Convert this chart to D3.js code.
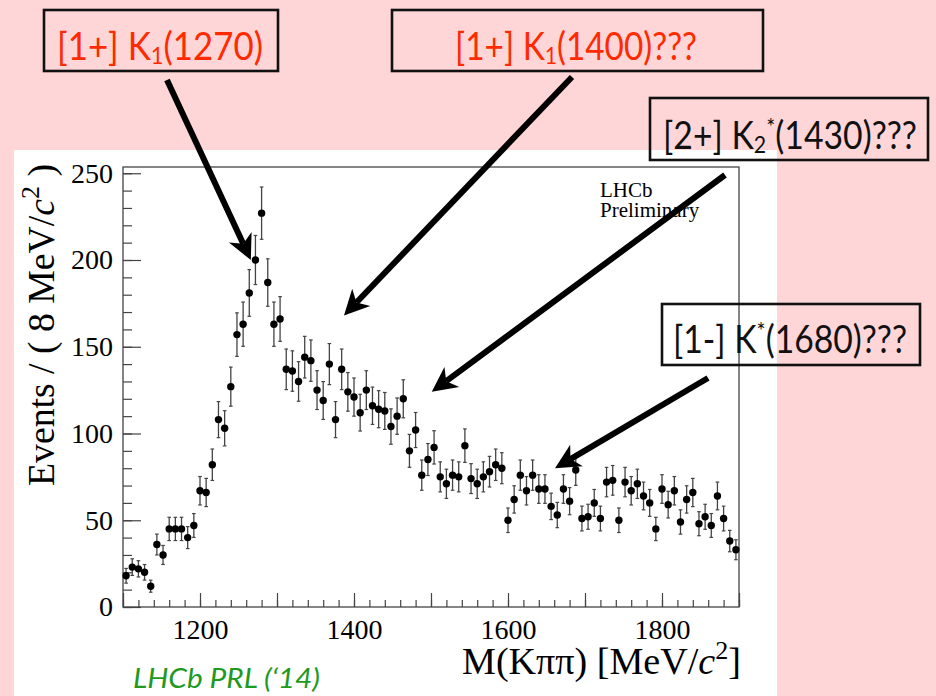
<!DOCTYPE html>
<html>
<head>
<meta charset="utf-8">
<script src="https://cdn.jsdelivr.net/npm/d3@7"></script>
<style>
  html, body { margin: 0; padding: 0; background: #ffd6d7; }
  svg { display: block; }
</style>
</head>
<body>
<svg id="chart" width="936" height="696"></svg>
<script>
// M(Kpipi) spectrum, 8 MeV bins from 1100 to 1900 MeV
const binLow = 1100;
const binWidth = 8;
const counts = [
  18, 23, 22, 20, 12, 36, 30, 45, 45, 45,
  40, 47, 67, 66, 82, 108, 103, 127, 157, 163,
  181, 200, 227, 187, 163, 166, 137, 136, 130, 144,
  142, 125, 119, 140, 108, 137, 124, 121, 112, 125,
  116, 114, 113, 104, 110, 120, 90, 102, 76, 85,
  92, 75, 71, 76, 75, 93, 74, 71, 75, 78,
  82, 80, 50, 62, 76, 67, 76, 68, 68, 58,
  53, 68, 61, 79, 51, 52, 60, 51, 72, 73,
  50, 72, 67, 71, 64, 60, 45, 68, 59, 67,
  49, 62, 66, 48, 52, 47, 64, 51, 38, 33
];
const xTickLabels = [1200, 1400, 1600, 1800];
const yTickLabels = [0, 50, 100, 150, 200, 250];

// Resonance annotations: label parts, text colour, and arrow target (mass, events)
const annotations = [
  { parts: [["[1+] K", ""], ["1", "sub"], ["(1270)", ""]], color: "#ff2b00", target: [1266, 200] },
  { parts: [["[1+] K", ""], ["1", "sub"], ["(1400)???", ""]], color: "#ff2b00", target: [1387, 168] },
  { parts: [["[2+] K", ""], ["2", "sub"], ["*", "sup"], ["(1430)???", ""]], color: "#111", target: [1501, 124] },
  { parts: [["[1-] K", ""], ["*", "sup"], ["(1680)???", ""]], color: "#111", target: [1661, 80] }
];

const svg = d3.select("#chart");

// white canvas behind the plot
svg.append("rect").attr("x", 14).attr("y", 150).attr("width", 763).attr("height", 546).attr("fill", "#fff");

const frame = { left: 123, right: 739, top: 167, bottom: 607 };
const x = d3.scaleLinear().domain([1100, 1900]).range([frame.left, frame.right]);
const y = d3.scaleLinear().domain([0, 253.6]).range([frame.bottom, frame.top]);

const axisColor = "#444";
const serif = "'Liberation Serif', 'DejaVu Serif', serif";
const plain = d3.format("d");

// minor and major ticks, drawn inward
function styleAxis(g) {
  g.select(".domain").remove();
  g.selectAll(".tick line").attr("stroke", axisColor).attr("stroke-width", 1.2);
  g.selectAll(".tick text").attr("font-family", serif).attr("font-size", 28).attr("fill", "#000");
}

svg.append("g").attr("transform", `translate(${frame.left},0)`)
  .call(d3.axisLeft(y).tickValues(d3.range(0, 251, 10)).tickSize(-9).tickFormat(""))
  .call(styleAxis);
svg.append("g").attr("transform", `translate(${frame.left},0)`)
  .call(d3.axisLeft(y).tickValues(yTickLabels).tickSize(-18).tickPadding(10).tickFormat(plain))
  .call(styleAxis);

svg.append("g").attr("transform", `translate(0,${frame.bottom})`)
  .call(d3.axisBottom(x).tickValues(d3.range(1100, 1901, 20)).tickSize(-7).tickFormat(""))
  .call(styleAxis);
svg.append("g").attr("transform", `translate(0,${frame.bottom})`)
  .call(d3.axisBottom(x).tickValues(d3.range(1100, 1901, 100)).tickSize(-14).tickFormat(""))
  .call(styleAxis);
svg.append("g").attr("transform", `translate(0,${frame.bottom})`)
  .call(d3.axisBottom(x).tickValues(xTickLabels).tickSize(0).tickPadding(12).tickFormat(plain))
  .call(styleAxis)
  .selectAll(".tick text").attr("dy", "0.72em");

// frame
svg.append("rect")
  .attr("x", frame.left).attr("y", frame.top)
  .attr("width", frame.right - frame.left).attr("height", frame.bottom - frame.top)
  .attr("fill", "none").attr("stroke", axisColor).attr("stroke-width", 1.3);

// data points with Poisson error bars
const points = counts.map((c, i) => ({ m: binLow + binWidth * (i + 0.5), n: c, e: Math.sqrt(c) }));
const pg = svg.append("g");
const bars = pg.selectAll("g.pt").data(points).join("g").attr("class", "pt");
bars.append("line")
  .attr("x1", d => x(d.m)).attr("x2", d => x(d.m))
  .attr("y1", d => y(d.n - d.e)).attr("y2", d => y(d.n + d.e))
  .attr("stroke", "#444").attr("stroke-width", 1.3);
[-1, 1].forEach(s => {
  bars.append("line")
    .attr("x1", d => x(d.m) - 1.8).attr("x2", d => x(d.m) + 1.8)
    .attr("y1", d => y(d.n + s * d.e)).attr("y2", d => y(d.n + s * d.e))
    .attr("stroke", "#444").attr("stroke-width", 1.2);
});
bars.append("circle")
  .attr("cx", d => x(d.m)).attr("cy", d => y(d.n)).attr("r", 3.7).attr("fill", "#000");

// axis titles
const yTitle = svg.append("text")
  .attr("transform", "translate(54,325) rotate(-90)")
  .attr("text-anchor", "middle")
  .attr("font-family", serif).attr("font-size", 38)
  .attr("textLength", 322).attr("lengthAdjust", "spacingAndGlyphs");
yTitle.append("tspan").text("Events / ( 8 MeV/");
yTitle.append("tspan").attr("font-style", "italic").text("c");
yTitle.append("tspan").attr("font-size", 26).attr("dy", -15).text("2");
yTitle.append("tspan").attr("dy", 15).text(" )");

const xTitle = svg.append("text")
  .attr("x", 741).attr("y", 674).attr("text-anchor", "end")
  .attr("font-family", serif).attr("font-size", 38)
  .attr("textLength", 279).attr("lengthAdjust", "spacingAndGlyphs");
xTitle.append("tspan").text("M(K\u03c0\u03c0) [MeV/");
xTitle.append("tspan").attr("font-style", "italic").text("c");
xTitle.append("tspan").attr("font-size", 26).attr("dy", -15).text("2");
xTitle.append("tspan").attr("dy", 15).text("]");

// experiment tag
const tag = svg.append("text").attr("x", 600).attr("y", 197)
  .attr("font-family", serif).attr("font-size", 21).attr("fill", "#000");
tag.append("tspan").attr("x", 600).text("LHCb");
tag.append("tspan").attr("x", 600).attr("dy", 20).text("Preliminary");

svg.append("text").attr("x", 133).attr("y", 688)
  .attr("font-family", "Lato, 'Open Sans', sans-serif").attr("font-style", "italic").attr("font-size", 27)
  .attr("fill", "#1e9a1e").attr("textLength", 187).attr("lengthAdjust", "spacingAndGlyphs")
  .text("LHCb PRL (\u201814)");

// annotation boxes and arrows
const boxes = [
  { x0: 44, y0: 10, x1: 278, y1: 71, tx: 57, tw: 206, base: 60, from: [167, 80] },
  { x0: 392, y0: 10, x1: 763, y1: 71, tx: 455, tw: 242, base: 60, from: [572, 77] },
  { x0: 650, y0: 98, x1: 928, y1: 160, tx: 663, tw: 254, base: 149, from: [725, 175] },
  { x0: 662, y0: 304, x1: 920, y1: 365, tx: 673, tw: 234, base: 353, from: [708, 378] }
];
const sans = "Lato, 'Open Sans', sans-serif";

annotations.forEach((a, i) => {
  const b = boxes[i];
  svg.append("rect").attr("x", b.x0).attr("y", b.y0).attr("width", b.x1 - b.x0).attr("height", b.y1 - b.y0)
    .attr("fill", "none").attr("stroke", "#111").attr("stroke-width", 2.6);
  const t = svg.append("text").attr("x", b.tx).attr("y", b.base)
    .attr("font-family", sans).attr("font-size", 38).attr("fill", a.color)
    .attr("textLength", b.tw).attr("lengthAdjust", "spacingAndGlyphs");
  let shift = 0;
  a.parts.forEach(([s, kind]) => {
    const sp = t.append("tspan").text(s);
    let target = 0, size = 38;
    if (kind === "sub") { target = 4; size = 24; }
    if (kind === "sup") { target = -14; size = 24; }
    sp.attr("font-size", size).attr("dy", target - shift);
    shift = target;
  });

  // arrow from box towards the structure in the spectrum
  const [fx, fy] = b.from;
  const tx = x(a.target[0]), ty = y(a.target[1]);
  const dx = tx - fx, dy = ty - fy, len = Math.hypot(dx, dy);
  const ux = dx / len, uy = dy / len, nx = -uy, ny = ux;
  const headLen = 25, headHalf = 12.5, notch = 18;
  svg.append("line")
    .attr("x1", fx).attr("y1", fy)
    .attr("x2", tx - ux * notch).attr("y2", ty - uy * notch)
    .attr("stroke", "#000").attr("stroke-width", 6);
  const p = [
    [tx, ty],
    [tx - ux * headLen + nx * headHalf, ty - uy * headLen + ny * headHalf],
    [tx - ux * notch, ty - uy * notch],
    [tx - ux * headLen - nx * headHalf, ty - uy * headLen - ny * headHalf]
  ];
  svg.append("path").attr("d", "M" + p.map(q => q.join(",")).join("L") + "Z").attr("fill", "#000");
});
</script>
</body>
</html>
